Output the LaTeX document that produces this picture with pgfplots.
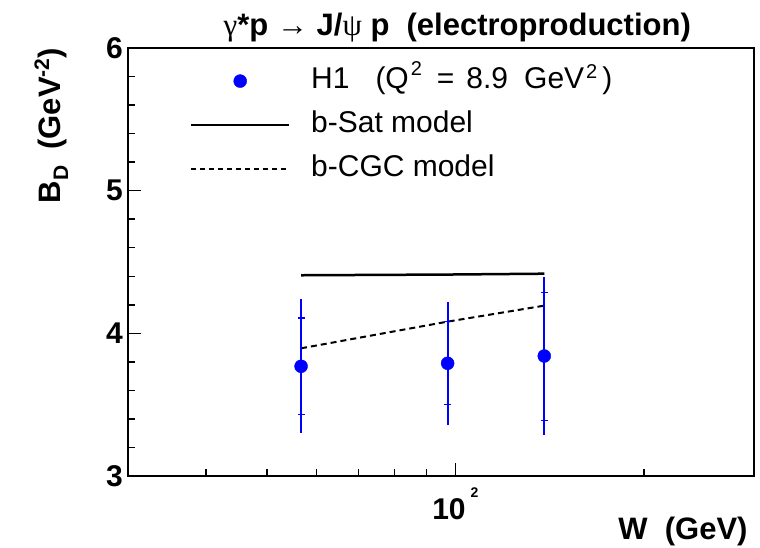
\documentclass[border=0pt]{standalone}
\usepackage{fontspec}
\setmainfont{Liberation Sans}
\newfontfamily\symf{Liberation Serif}
\usepackage{pgfplots}
\usepackage{pgfplotstable}
\pgfplotsset{compat=1.18}
\pgfplotstableread{
W B tot su sl
56.7 3.769 0.47 4.108 3.430
97.2 3.790 0.43 4.082 3.500
138.7 3.841 0.555 4.288 3.390
}\hdata
\pgfplotstableread{
W B
56.7 4.407
97.2 4.412
138.7 4.418
}\bsat
\pgfplotstableread{
W B
56.7 3.895
97.2 4.082
138.7 4.194
}\bcgc
\newcommand{\sups}[2]{\raisebox{#1}{\fontsize{20}{20}\selectfont #2}}
\begin{document}
\begin{tikzpicture}
\useasboundingbox (0,0) rectangle (760pt,548pt);
\begin{axis}[
  at={(128pt,72pt)}, anchor=south west,
  scale only axis, width=626pt, height=428pt,
  xmode=log, xmin=30, xmax=300, ymin=3, ymax=6,
  xtick={100}, xticklabels={10\hspace{5pt}\raisebox{22pt}{\fontsize{14}{14}\selectfont 2}},
  minor xtick={40,50,60,70,80,90,200},
  ytick={3,4,5,6},
  minor ytick={3.2,3.4,3.6,3.8,4.2,4.4,4.6,4.8,5.2,5.4,5.6,5.8},
  xtick pos=bottom, ytick pos=left, tick align=inside,
  major tick length=13pt, minor tick length=7pt,
  axis line style={line width=1.5pt},
  major tick style={black, line width=1.5pt},
  minor tick style={black, line width=1.5pt},
  /pgf/number format/assume math mode=true,
  every tick label/.append style={font=\fontsize{30}{30}\selectfont\bfseries},
  yticklabel style={anchor=east, inner sep=0pt, xshift=-5pt},
  xticklabel style={anchor=north, inner sep=0pt, yshift=-12pt},
  title={{\symf\mdseries γ}*p {\symf\mdseries →} J/{\symf\mdseries ψ} p\ \ (electroproduction)},
  title style={at={(axis description cs:0.526,1.015)}, anchor=base, inner sep=0pt, font=\fontsize{31}{31}\selectfont\bfseries},
  ylabel={B\raisebox{-8pt}{\fontsize{21}{21}\selectfont D}\hspace{16pt}(GeV\raisebox{11pt}{\fontsize{21}{21}\selectfont -2})},
  ylabel style={at={(axis description cs:-0.1086,1)}, anchor=base east, inner sep=0pt, font=\fontsize{31}{31}\selectfont\bfseries},
  xlabel={W\ \ (GeV)},
  xlabel style={at={(axis description cs:0.990,-0.1495)}, anchor=base east, inner sep=0pt, font=\fontsize{31}{31}\selectfont\bfseries},
  legend style={at={(axis description cs:0.099,0.957)}, anchor=north west, draw=none, fill=none, inner sep=0pt,
    font=\fontsize{30}{36}\selectfont, row sep=15pt, column sep=0pt,
    nodes={inner sep=0pt, text depth=7pt, text height=22pt}},
  legend cell align=left,
]
\addlegendimage{legend image code/.code={\path[draw=none] (0pt,0pt) -- (120pt,0pt); \fill[blue] (49pt,0pt) circle[radius=6.5pt];}}
\addlegendentry{H1\hspace{26pt}(Q\hspace{2pt}\sups{13pt}{2}\hspace{15pt}=\hspace{12pt}8.9\hspace{16pt}GeV\hspace{2pt}\sups{10pt}{2}\hspace{5pt})}
\addlegendimage{legend image code/.code={\path[draw=none] (0pt,0pt) -- (120pt,0pt); \draw[black, solid, line width=2pt] (0pt,0pt) -- (98pt,0pt);}}
\addlegendentry{b-Sat model}
\addlegendimage{legend image code/.code={\path[draw=none] (0pt,0pt) -- (120pt,0pt); \draw[black, line width=1.5pt, dash pattern=on 5pt off 4pt] (0pt,0pt) -- (98pt,0pt);}}
\addlegendentry{b-CGC model}
\addplot[forget plot, black, line width=2.5pt] table[x=W, y=B] {\bsat};
\addplot[forget plot, black, line width=2pt, dash pattern=on 6pt off 4pt] table[x=W, y=B] {\bcgc};
\addplot[forget plot, blue, only marks, mark=none,
  error bars/.cd, y dir=both, y explicit, error mark=none,
  error bar style={line width=1.8pt, blue}]
  table[x=W, y=B, y error=tot] {\hdata};
\addplot[forget plot, blue, only marks, mark=-, mark size=3.5pt, mark options={line width=1.2pt}]
  table[x=W, y=su] {\hdata};
\addplot[forget plot, blue, only marks, mark=-, mark size=3.5pt, mark options={line width=1.2pt}]
  table[x=W, y=sl] {\hdata};
\addplot[forget plot, blue, only marks, mark=*, mark size=6.5pt, mark options={fill=blue, draw=blue}]
  table[x=W, y=B] {\hdata};
\end{axis}
\end{tikzpicture}
\end{document}
